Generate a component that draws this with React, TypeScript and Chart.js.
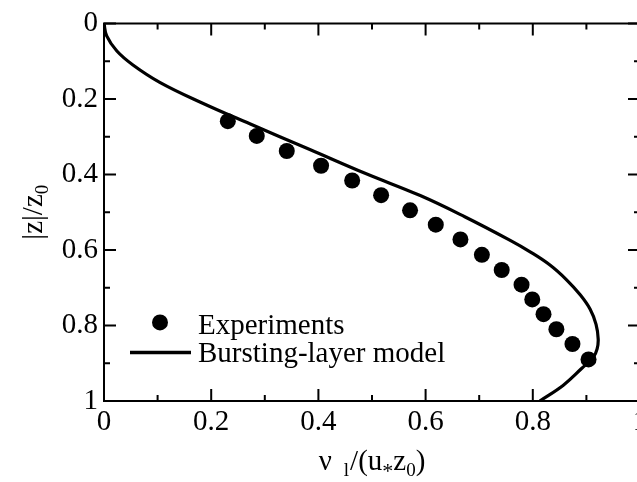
import React, { useEffect, useRef } from 'react';
import { Chart, registerables } from 'chart.js';

Chart.register(...registerables);

// Experimental points (x = ν_l/(u*z0), y = |z|/z0)
const expX = [0.231, 0.285, 0.341, 0.405, 0.463, 0.517, 0.571, 0.619, 0.665, 0.705, 0.742, 0.779, 0.799, 0.820, 0.844, 0.874, 0.904];
const expY = [0.259, 0.298, 0.338, 0.377, 0.416, 0.455, 0.495, 0.533, 0.572, 0.613, 0.653, 0.692, 0.731, 0.770, 0.810, 0.849, 0.890];

// Bursting-layer model curve
const modelX = [0, 0.005, 0.024, 0.054, 0.104, 0.179, 0.272, 0.384, 0.487, 0.590, 0.673, 0.757, 0.795, 0.832, 0.863, 0.888, 0.907, 0.918, 0.922, 0.920, 0.913, 0.891, 0.857, 0.813];
const modelY = [0, 0.033, 0.073, 0.110, 0.156, 0.208, 0.266, 0.334, 0.397, 0.456, 0.512, 0.574, 0.605, 0.640, 0.679, 0.718, 0.757, 0.797, 0.836, 0.862, 0.884, 0.914, 0.958, 1.0];

const seriesLabels = ['Experiments', 'Bursting-layer model'];
const axisMin = 0;
const axisMax = 1;
const tickStep = 0.1;

const FONT = '"Liberation Serif", "Times New Roman", serif';
const FS = 29;
const SUB = 19;

function tickLabel(v: number): string {
  const tenth = Math.round(v * 10);
  if (tenth % 2 !== 0) return '';
  return String(tenth / 10);
}

type Seg = { t: string; size: number; dy?: number; gap?: number };

function segWidth(ctx: CanvasRenderingContext2D, segs: Seg[]) {
  let w = 0;
  for (const s of segs) {
    ctx.font = `${s.size}px ${FONT}`;
    w += ctx.measureText(s.t).width + (s.gap || 0);
  }
  return w;
}

function drawSegs(ctx: CanvasRenderingContext2D, segs: Seg[], x: number, y: number) {
  let cx = x;
  ctx.textBaseline = 'alphabetic';
  ctx.textAlign = 'left';
  for (const s of segs) {
    ctx.font = `${s.size}px ${FONT}`;
    ctx.fillText(s.t, cx, y + (s.dy || 0));
    cx += ctx.measureText(s.t).width + (s.gap || 0);
  }
}

const framePlugin = {
  id: 'frame',
  beforeDatasetsDraw(chart: any) {
    const ctx: CanvasRenderingContext2D = chart.ctx;
    const { left, right, top, bottom } = chart.chartArea;
    const xs = chart.scales.x;
    const ys = chart.scales.y;
    ctx.save();
    ctx.strokeStyle = '#000';
    ctx.lineWidth = 2;
    ctx.beginPath();
    ctx.rect(left, top, right - left, bottom - top);
    ctx.stroke();
    ctx.beginPath();
    xs.ticks.forEach((t: any) => {
      const px = xs.getPixelForValue(t.value);
      const len = tickLabel(t.value) === '' ? 6 : 12;
      ctx.moveTo(px, bottom);
      ctx.lineTo(px, bottom - len);
      ctx.moveTo(px, top);
      ctx.lineTo(px, top + len);
    });
    ys.ticks.forEach((t: any) => {
      const py = ys.getPixelForValue(t.value);
      const len = tickLabel(t.value) === '' ? 6 : 12;
      ctx.moveTo(left, py);
      ctx.lineTo(left + len, py);
      ctx.moveTo(right, py);
      ctx.lineTo(right - len, py);
    });
    ctx.stroke();
    ctx.restore();
  },
  afterDraw(chart: any) {
    const ctx: CanvasRenderingContext2D = chart.ctx;
    const { left, right, top, bottom } = chart.chartArea;
    ctx.save();
    ctx.fillStyle = '#000';
    ctx.strokeStyle = '#000';

    // Legend
    const lx = left + 56;
    ctx.beginPath();
    ctx.arc(lx, top + 299, 8, 0, Math.PI * 2);
    ctx.fill();
    ctx.lineWidth = 3.5;
    ctx.beginPath();
    ctx.moveTo(left + 26, top + 329);
    ctx.lineTo(left + 87, top + 329);
    ctx.stroke();
    ctx.font = `${FS}px ${FONT}`;
    ctx.textAlign = 'left';
    ctx.textBaseline = 'alphabetic';
    ctx.fillText(chart.data.datasets[0].label, left + 94, top + 311);
    ctx.fillText(chart.data.datasets[1].label, left + 94, top + 339);

    // X axis title: ν l/(u*z0)
    const xSegs: Seg[] = [
      { t: 'ν', size: FS, gap: 12 },
      { t: 'l', size: SUB, dy: 6, gap: 1 },
      { t: '/(u', size: FS },
      { t: '*', size: 22, dy: 8 },
      { t: 'z', size: FS },
      { t: '0', size: SUB, dy: 6 },
      { t: ')', size: FS },
    ];
    const xw = segWidth(ctx, xSegs);
    drawSegs(ctx, xSegs, (left + right) / 2 - xw / 2, bottom + 69);

    // Y axis title: |z|/z0
    const ySegs: Seg[] = [
      { t: '|z|/z', size: FS },
      { t: '0', size: SUB, dy: 6 },
    ];
    const yw = segWidth(ctx, ySegs);
    ctx.translate(42, (top + bottom) / 2);
    ctx.rotate(-Math.PI / 2);
    drawSegs(ctx, ySegs, -yw / 2, 0);
    ctx.restore();
  },
};

export default function App() {
  const ref = useRef<HTMLCanvasElement | null>(null);

  useEffect(() => {
    if (!ref.current) return;
    const chart = new Chart(ref.current, {
      type: 'scatter',
      data: {
        datasets: [
          {
            label: seriesLabels[0],
            data: expX.map((x, i) => ({ x, y: expY[i] })),
            backgroundColor: '#000',
            borderColor: '#000',
            borderWidth: 0,
            pointRadius: 8,
            showLine: false,
          },
          {
            label: seriesLabels[1],
            data: modelX.map((x, i) => ({ x, y: modelY[i] })),
            borderColor: '#000',
            backgroundColor: '#000',
            borderWidth: 3.2,
            pointRadius: 0,
            showLine: true,
            tension: 0.4,
          },
        ],
      },
      options: {
        responsive: false,
        animation: false,
        devicePixelRatio: 1,
        layout: { padding: { left: 0, top: 19, right: 20, bottom: 0 } },
        plugins: {
          legend: { display: false },
          tooltip: { enabled: false },
        },
        scales: {
          x: {
            type: 'linear',
            min: axisMin,
            max: axisMax,
            grid: { display: false, drawTicks: false },
            border: { display: false },
            ticks: {
              stepSize: tickStep,
              autoSkip: false,
              maxRotation: 0,
              padding: 4,
              color: '#000',
              font: { family: FONT, size: FS },
              callback: (v: any) => tickLabel(Number(v)),
            },
            afterFit: (s: any) => {
              s.height = 81;
            },
          },
          y: {
            type: 'linear',
            reverse: true,
            min: axisMin,
            max: axisMax,
            grid: { display: false, drawTicks: false },
            border: { display: false },
            ticks: {
              stepSize: tickStep,
              autoSkip: false,
              padding: 6,
              color: '#000',
              font: { family: FONT, size: FS },
              callback: (v: any) => tickLabel(Number(v)),
            },
            afterFit: (s: any) => {
              s.width = 104;
            },
          },
        },
      } as any,
      plugins: [framePlugin],
    });
    return () => chart.destroy();
  }, []);

  return (
    <div
      style={{
        position: 'absolute',
        left: 0,
        top: 0,
        width: 637,
        height: 482,
        overflow: 'hidden',
        background: '#fff',
      }}
    >
      <canvas ref={ref} width={660} height={482} style={{ display: 'block' }} />
    </div>
  );
}
